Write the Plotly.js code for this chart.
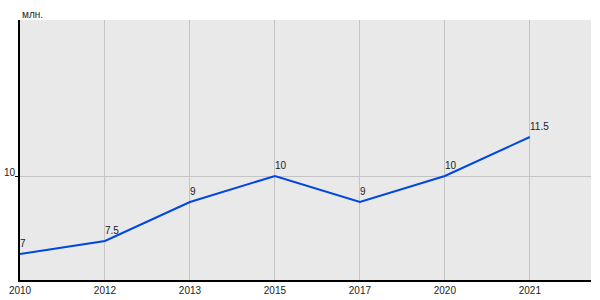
<!DOCTYPE html>
<html>
<head>
<meta charset="utf-8">
<script src="https://cdn.plot.ly/plotly-3.0.1.min.js"></script>
<style>html,body{margin:0;padding:0;background:#fff;}#chart{width:600px;height:300px;}</style>
</head>
<body>
<div id="chart"></div>
<script>
const years = ["2010", "2012", "2013", "2015", "2017", "2020", "2021"];
const values = [7, 7.5, 9, 10, 9, 10, 11.5];
const valueLabels = ["7", "7.5", "9", "10", "9", "10", "11.5"];
const yTickVals = [10];
const unitLabel = "млн.";

const FONT = "Liberation Sans, Arial, sans-serif";

const trace = {
  type: "scatter",
  mode: "lines",
  x: years,
  y: values,
  line: {color: "#0047e0", width: 2},
  hoverinfo: "none"
};

const valueAnnotations = years.map((yr, i) => ({
  x: i, y: values[i], xref: "x", yref: "y",
  text: valueLabels[i], showarrow: false,
  xanchor: "left", yanchor: "bottom",
  xshift: -2, yshift: 3,
  font: {family: FONT, size: 10, color: "#222"}
}));

const layout = {
  width: 600, height: 300,
  margin: {l: 20, r: 9, t: 20, b: 20},
  paper_bgcolor: "#ffffff",
  plot_bgcolor: "#e9e9e9",
  showlegend: false,
  font: {family: FONT, size: 10, color: "#222"},
  xaxis: {
    type: "category",
    range: [0, 6.72],
    showgrid: true, gridcolor: "#c4c4c4", gridwidth: 1,
    showline: true, linecolor: "#000", linewidth: 2,
    ticks: "", zeroline: false,
    tickfont: {size: 10, color: "#222"},
    fixedrange: true
  },
  yaxis: {
    range: [6, 16],
    tickvals: yTickVals,
    ticktext: yTickVals.map(String),
    showgrid: true, gridcolor: "#c4c4c4", gridwidth: 1,
    showline: true, linecolor: "#000", linewidth: 2,
    ticks: "outside", ticklen: 3, tickcolor: "#000",
    ticklabelshift: -4,
    ticklabelstandoff: -2,
    zeroline: false,
    tickfont: {size: 10, color: "#222"},
    fixedrange: true
  },
  annotations: [{
    text: unitLabel, xref: "paper", yref: "paper", x: 0, y: 1,
    xanchor: "left", yanchor: "bottom", yshift: -2, showarrow: false,
    font: {size: 10, color: "#222"}
  }].concat(valueAnnotations)
};

Plotly.newPlot("chart", [trace], layout, {displayModeBar: false, staticPlot: true});
</script>
</body>
</html>
